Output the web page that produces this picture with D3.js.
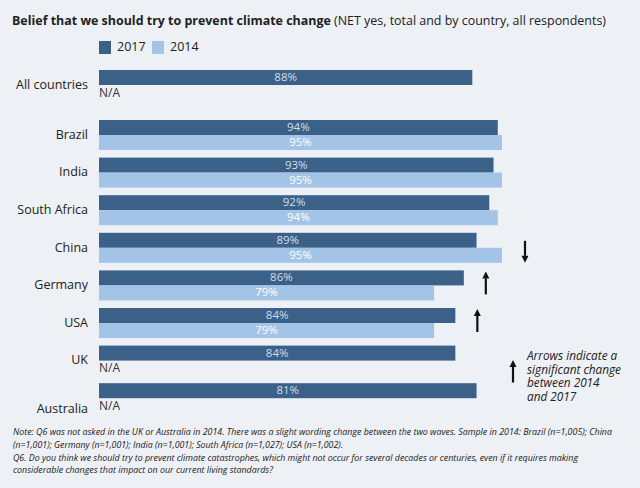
<!DOCTYPE html>
<html>
<head>
<meta charset="utf-8">
<script src="https://cdn.jsdelivr.net/npm/d3@7"></script>
<style>
  html, body { margin: 0; padding: 0; background: #edf0f4; }
  svg { display: block; font-family: "Open Sans", sans-serif; }
</style>
</head>
<body>
<svg id="chart" width="640" height="488"></svg>
<script>
// ---- data ----
const categories = ["All countries", "Brazil", "India", "South Africa", "China", "Germany", "USA", "UK", "Australia"];
// bar lengths as drawn in the reference (Australia's bar is drawn longer than its printed label)
const values2017 = [88, 94, 93, 92, 89, 86, 84, 84, 89];
const labels2017 = ["88%", "94%", "93%", "92%", "89%", "86%", "84%", "84%", "81%"];
const values2014 = [null, 95, 95, 94, 95, 79, 79, null, null];
const labels2014 = ["N/A", "95%", "95%", "94%", "95%", "79%", "79%", "N/A", "N/A"];
// significant change markers: -1 down, +1 up, 0 none
const changes = [0, 0, 0, 0, -1, 1, 1, 0, 0];
const seriesNames = ["2017", "2014"];
const titleBold = "Belief that we should try to prevent climate change";
const titleRest = " (NET yes, total and by country, all respondents)";
const arrowNote = ["Arrows indicate a", "significant change", "between 2014", "and 2017"];
const notes = [
  "Note: Q6 was not asked in the UK or Australia in 2014. There was a slight wording change between the two waves. Sample in 2014: Brazil (n=1,005); China",
  "(n=1,001); Germany (n=1,001); India (n=1,001); South Africa (n=1,027); USA (n=1,002).",
  "Q6. Do you think we should try to prevent climate catastrophes, which might not occur for several decades or centuries, even if it requires making",
  "considerable changes that impact on our current living standards?"
];

// ---- style ----
const C_DARK = "#3b6189", C_LIGHT = "#a3c4e6", C_TEXT = "#222";
const svg = d3.select("#chart");

// ---- scales ----
const x = d3.scaleLinear().domain([0, 95]).range([99, 502]);
const countries = categories.slice(1);
const yBand = d3.scaleBand().domain(countries).range([120, 120 + 37.6 * countries.length]);
const groupY = c => c === categories[0] ? 70 : yBand(c);
const barH = 15;

// ---- title ----
const t = svg.append("text").attr("x", 12).attr("y", 25).attr("fill", C_TEXT).attr("font-size", 13);
t.append("tspan").attr("font-weight", 700).text(titleBold);
t.append("tspan").attr("font-weight", 400).text(titleRest);
t.attr("textLength", 594).attr("lengthAdjust", "spacingAndGlyphs");

// ---- legend ----
const leg = svg.append("g");
const legX = [99, 152];
seriesNames.forEach((s, i) => {
  leg.append("rect").attr("x", legX[i]).attr("y", 41).attr("width", 12).attr("height", 13)
    .attr("fill", i === 0 ? C_DARK : C_LIGHT);
  leg.append("text").attr("x", legX[i] + 18).attr("y", 48).attr("dominant-baseline", "middle")
    .attr("font-size", 12.5).attr("fill", C_TEXT).text(s);
});

// ---- bars ----
const rows = categories.map((c, i) => ({
  c, v17: values2017[i], l17: labels2017[i], v14: values2014[i], l14: labels2014[i], ch: changes[i]
}));

const g = svg.append("g");
// 2017
g.selectAll(".b17").data(rows).join("rect")
  .attr("x", x(0)).attr("y", d => groupY(d.c))
  .attr("width", d => x(d.v17) - x(0)).attr("height", barH).attr("fill", C_DARK);
g.selectAll(".t17").data(rows).join("text")
  .attr("x", d => (x(0) + x(d.v17)) / 2).attr("y", d => groupY(d.c) + barH / 2 + 0.5)
  .attr("text-anchor", "middle").attr("dominant-baseline", "middle")
  .attr("font-size", 11.5).attr("fill", "#d3deea").text(d => d.l17);
// 2014
const r14 = rows.filter(d => d.v14 != null);
g.selectAll(".b14").data(r14).join("rect")
  .attr("x", x(0)).attr("y", d => groupY(d.c) + barH)
  .attr("width", d => x(d.v14) - x(0)).attr("height", barH).attr("fill", C_LIGHT);
g.selectAll(".t14").data(r14).join("text")
  .attr("x", d => (x(0) + x(d.v14)) / 2).attr("y", d => groupY(d.c) + barH * 1.5 + 0.5)
  .attr("text-anchor", "middle").attr("dominant-baseline", "middle")
  .attr("font-size", 11.5).attr("fill", "#ffffff").text(d => d.l14);
// N/A
g.selectAll(".na").data(rows.filter(d => d.v14 == null)).join("text")
  .attr("x", x(0)).attr("y", d => groupY(d.c) + 23.5)
  .attr("dominant-baseline", "middle").attr("font-size", 12).attr("fill", "#333").text(d => d.l14);

// category labels
g.selectAll(".cat").data(rows).join("text")
  .attr("x", 88).attr("y", d => groupY(d.c) + (d.c === "Australia" ? 26 : 15.5))
  .attr("text-anchor", "end").attr("dominant-baseline", "middle")
  .attr("font-size", 12.5).attr("fill", C_TEXT).text(d => d.c);

// ---- arrows ----
function arrow(sel, cx, y0, y1, dir) {
  const tipY = dir > 0 ? y0 : y1;
  const baseY = dir > 0 ? y0 + 7 : y1 - 7;
  sel.append("line").attr("x1", cx).attr("x2", cx)
    .attr("y1", dir > 0 ? baseY : y0).attr("y2", dir > 0 ? y1 : baseY)
    .attr("stroke", "#111").attr("stroke-width", 2.2);
  sel.append("path")
    .attr("d", `M${cx},${tipY} L${cx - 3.5},${baseY} L${cx + 3.5},${baseY} Z`)
    .attr("fill", "#111");
}
const ag = svg.append("g");
rows.forEach(d => {
  if (!d.ch) return;
  const end = Math.max(x(d.v17), d.v14 != null ? x(d.v14) : 0);
  const gy = groupY(d.c);
  if (d.ch < 0) arrow(ag, end + 23, gy + 8, gy + 30, -1);
  else arrow(ag, end + 22, gy + 1, gy + 24, 1);
});
// legend arrow
arrow(ag, 513, 360, 382.5, 1);
arrowNote.forEach((s, i) => {
  svg.append("text").attr("x", 527).attr("y", 360 + i * 13.7)
    .attr("font-size", 11.8).attr("font-style", "italic").attr("fill", C_TEXT)
    .text(s);
});

// ---- notes ----
const noteW = [599, 330, 565, 260];
notes.forEach((s, i) => {
  svg.append("text").attr("x", 13).attr("y", 435 + i * 12.8)
    .attr("font-size", 8.8).attr("font-style", "italic").attr("fill", C_TEXT)
    .attr("textLength", noteW[i]).attr("lengthAdjust", "spacingAndGlyphs")
    .text(s);
});
</script>
</body>
</html>
